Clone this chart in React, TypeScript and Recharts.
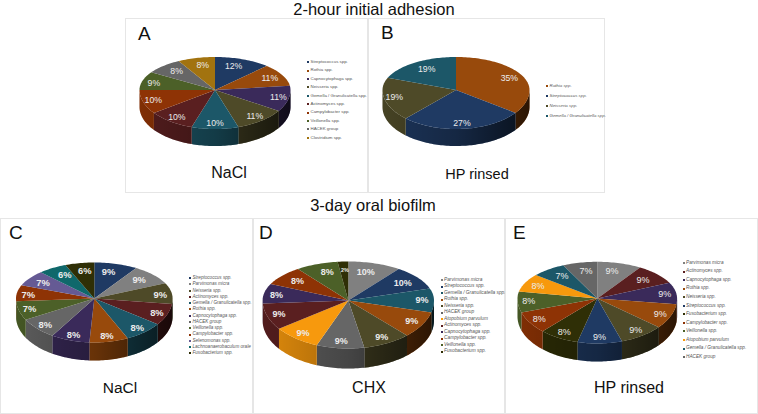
import React from "react";
import { PieChart, Pie, Cell, Legend } from "recharts";

const seriesColors: Record<string, string> = {
  "Streptococcus spp.": "#1f3a63",
  "Rothia spp.": "#984a0c",
  "Capnocytophaga spp.": "#3a2a5a",
  "Neisseria spp.": "#4e4a28",
  "Gemella / Granulicatella spp.": "#1c5768",
  "Actinomyces spp.": "#5a1f20",
  "Campylobacter spp.": "#8e3305",
  "Veillonella spp.": "#4c6028",
  "HACEK group": "#666666",
  "Clostridium spp.": "#a2730f",
  "Parvimonas micra": "#808080",
  "Selenomonas spp.": "#655a94",
  "Lachnoanaerobaculum orale": "#0f686b",
  "Fusobacterium spp.": "#2f2f06",
  "Atopobium parvulum": "#f7990d",
};

const categoriesA = ["Streptococcus spp.", "Rothia spp.", "Capnocytophaga spp.", "Neisseria spp.", "Gemella / Granulicatella spp.", "Actinomyces spp.", "Campylobacter spp.", "Veillonella spp.", "HACEK group", "Clostridium spp."];
const valuesA = [12, 11, 11, 11, 10, 10, 10, 9, 8, 8];

const categoriesB = ["Rothia spp.", "Streptococcus spp.", "Neisseria spp.", "Gemella / Granulicatella spp."];
const valuesB = [35, 27, 19, 19];

const categoriesC = ["Streptococcus spp.", "Parvimonas micra", "Neisseria spp.", "Actinomyces spp.", "Gemella / Granulicatella spp.", "Rothia spp.", "Capnocytophaga spp.", "HACEK group", "Veillonella spp.", "Campylobacter spp.", "Selenomonas spp.", "Lachnoanaerobaculum orale", "Fusobacterium spp."];
const valuesC = [9, 9, 9, 8, 8, 8, 8, 8, 7, 7, 7, 6, 6];

const categoriesD = ["Parvimonas micra", "Streptococcus spp.", "Gemella / Granulicatella spp.", "Rothia spp.", "Neisseria spp.", "HACEK group", "Atopobium parvulum", "Actinomyces spp.", "Capnocytophaga spp.", "Campylobacter spp.", "Veillonella spp.", "Fusobacterium spp."];
const valuesD = [10, 10, 9, 9, 9, 9, 9, 9, 8, 8, 8, 2];

const categoriesE = ["Parvimonas micra", "Actinomyces spp.", "Capnocytophaga spp.", "Rothia spp.", "Neisseria spp.", "Streptococcus spp.", "Fusobacterium spp.", "Campylobacter spp.", "Veillonella spp.", "Atopobium parvulum", "Gemella / Granulicatella spp.", "HACEK group"];
const valuesE = [9, 9, 9, 9, 9, 9, 8, 8, 8, 8, 7, 7];

const FONT = "'Liberation Sans', Arial, sans-serif";
const RAD = Math.PI / 180;

type Geo = { id: string; cx: number; cy: number; rx: number; ryTop: number; ryBot: number; depth: number };

const pt = (g: Geo, deg: number, f = 1): [number, number] => {
  const s = Math.sin(deg * RAD);
  return [g.cx + g.rx * f * Math.cos(deg * RAD), g.cy - (s > 0 ? g.ryTop : g.ryBot) * f * s];
};

const arcPts = (g: Geo, from: number, to: number) => {
  const out: [number, number][] = [];
  const n = Math.max(2, Math.ceil(Math.abs(to - from) / 1.5));
  for (let i = 0; i <= n; i++) out.push(pt(g, from + ((to - from) * i) / n));
  return out;
};

const toPath = (p: [number, number][]) =>
  "M" + p.map(([x, y]) => `${x.toFixed(2)},${y.toFixed(2)}`).join("L") + "Z";

const makeShape = (g: Geo) => (props: any) => {
  const { startAngle, endAngle, fill } = props;
  const hi = Math.min(startAngle, 0);
  const lo = Math.max(endAngle, -180);
  let wall: string | null = null;
  if (hi > lo) {
    const upper = arcPts(g, hi, lo);
    const lower = [...upper].reverse().map(([x, y]) => [x, y + g.depth] as [number, number]);
    wall = toPath([...upper, ...lower]);
  }
  const top = toPath([[g.cx, g.cy], ...arcPts(g, startAngle, endAngle)]);
  const gid = `${g.id}w${Math.round(startAngle * 10)}`.replace("-", "m");
  return (
    <g>
      <defs>
        <linearGradient id={gid} gradientUnits="userSpaceOnUse" x1={g.cx - g.rx} x2={g.cx + g.rx} y1={0} y2={0}>
          <stop offset="0" stopColor="#000" stopOpacity={0.1} />
          <stop offset="0.5" stopColor="#000" stopOpacity={0.32} />
          <stop offset="1" stopColor="#000" stopOpacity={0.72} />
        </linearGradient>
      </defs>
      {wall && <path d={wall} fill={fill} stroke="none" />}
      {wall && <path d={wall} fill={`url(#${gid})`} stroke="none" />}
      <path d={top} fill={fill} stroke="none" />
    </g>
  );
};

const makeLabel = (g: Geo, size: number, weight: number) => (props: any) => {
  const { midAngle, value } = props;
  const s = Math.sin(midAngle * RAD);
  const c = Math.cos(midAngle * RAD);
  const fx = s > 0 ? 0.86 - 0.22 * s * s : 0.86;
  const x = g.cx + g.rx * fx * c;
  const y = g.cy - (s > 0 ? g.ryTop * 0.78 : g.ryBot * 0.85) * s;
  return (
    <text x={x} y={y} textAnchor="middle" dominantBaseline="central" fill="#ececec" fontFamily={FONT} fontWeight={value < 5 ? 700 : weight} fontSize={value < 5 ? size * 0.6 : size}>
      {`${value}%`}
    </text>
  );
};

type LegendCfg = { x: number; y: number; step: number; size: number; italic: boolean };

const makeLegend = (l: LegendCfg) => (props: any) => (
  <div style={{ position: "absolute", left: l.x, top: l.y, fontFamily: FONT, fontSize: l.size, fontStyle: l.italic ? "italic" : "normal", color: "#555", whiteSpace: "nowrap" }}>
    {(props.payload || []).map((e: any) => (
      <div key={e.value} style={{ height: l.step, lineHeight: `${l.step}px`, display: "flex", alignItems: "center" }}>
        <span style={{ width: 2, height: 2, background: e.color, display: "inline-block", marginRight: 1.5, flex: "none" }} />
        {e.value}
      </div>
    ))}
  </div>
);

type PanelProps = {
  id: string; letter: string; caption: string; names: string[]; values: number[];
  box: { x: number; y: number; w: number; h: number };
  geo: Omit<Geo, "id">; legend: LegendCfg;
  letterPos: [number, number]; captionPos: [number, number]; captionSize: number;
  labelSize: number; labelWeight: number;
};

function Panel(p: PanelProps) {
  const g: Geo = {
    ...p.geo, id: p.id, cx: p.geo.cx - p.box.x, cy: p.geo.cy - p.box.y,
  };
  const data = p.names.map((name, i) => ({ name, value: p.values[i] }));
  const shape: any = makeShape(g);
  return (
    <div style={{ position: "absolute", left: p.box.x, top: p.box.y, width: p.box.w, height: p.box.h, border: "1px solid #e6e6e6", boxSizing: "border-box" }}>
      <div style={{ position: "absolute", left: -1, top: -1 }}>
        <PieChart width={p.box.w} height={p.box.h} margin={{ top: 0, right: 0, bottom: 0, left: 0 }}>
          <Pie
            data={data} dataKey="value" nameKey="name" cx={g.cx} cy={g.cy}
            innerRadius={0} outerRadius={g.rx} startAngle={90} endAngle={-270}
            stroke="none" paddingAngle={0} isAnimationActive={false}
            labelLine={false} label={makeLabel(g, p.labelSize, p.labelWeight)}
            {...({ shape, activeShape: shape, inactiveShape: shape } as any)}
          >
            {data.map((d) => <Cell key={d.name} fill={seriesColors[d.name]} />)}
          </Pie>
          <Legend
            itemSorter={null as any}
            content={makeLegend({ ...p.legend, x: p.legend.x - p.box.x, y: p.legend.y - p.box.y })}
            wrapperStyle={{ position: "absolute", left: 0, top: 0, width: 0, height: 0 }}
          />
        </PieChart>
      </div>
      <div style={{ position: "absolute", left: p.letterPos[0] - p.box.x, top: p.letterPos[1] - p.box.y, fontFamily: FONT, fontSize: 19, lineHeight: "20px", color: "#111" }}>{p.letter}</div>
      <div style={{ position: "absolute", left: p.captionPos[0] - p.box.x - 60, width: 120, textAlign: "center", top: p.captionPos[1] - p.box.y - 10, fontFamily: FONT, fontSize: p.captionSize, lineHeight: "20px", color: "#111" }}>{p.caption}</div>
    </div>
  );
}

const title = (text: string, cx: number, top: number, size: number) => (
  <div style={{ position: "absolute", left: cx - 150, width: 300, top, textAlign: "center", fontFamily: FONT, fontSize: size, lineHeight: "18px", color: "#111" }}>{text}</div>
);

export default function App() {
  return (
    <div style={{ position: "absolute", left: 0, top: 0, width: 758, height: 414, background: "#fff", overflow: "hidden" }}>
      <Panel id="a" letter="A" caption="NaCl" names={categoriesA} values={valuesA}
        box={{ x: 125, y: 18, w: 243, h: 175 }}
        geo={{ cx: 215, cy: 90, rx: 75.5, ryTop: 33, ryBot: 39, depth: 17 }}
        legend={{ x: 307, y: 58, step: 8.4, size: 4.4, italic: false }}
        letterPos={[137, 23]} captionPos={[228, 172]} captionSize={16} labelSize={8.7} labelWeight={400} />
      <Panel id="b" letter="B" caption="HP rinsed" names={categoriesB} values={valuesB}
        box={{ x: 368, y: 18, w: 237, h: 175 }}
        geo={{ cx: 456, cy: 90, rx: 73.5, ryTop: 33, ryBot: 39, depth: 17 }}
        legend={{ x: 546, y: 81, step: 10, size: 4.4, italic: true }}
        letterPos={[380, 22]} captionPos={[476, 173]} captionSize={14.5} labelSize={8.7} labelWeight={400} />
      <Panel id="c" letter="C" caption="NaCl" names={categoriesC} values={valuesC}
        box={{ x: 0, y: 218, w: 253, h: 196 }}
        geo={{ cx: 94.3, cy: 298.5, rx: 78.3, ryTop: 36, ryBot: 44, depth: 18 }}
        legend={{ x: 189, y: 275, step: 6.28, size: 4.6, italic: true }}
        letterPos={[8, 222]} captionPos={[119, 387]} captionSize={15.5} labelSize={9.4} labelWeight={700} />
      <Panel id="d" letter="D" caption="CHX" names={categoriesD} values={valuesD}
        box={{ x: 253, y: 218, w: 252, h: 196 }}
        geo={{ cx: 348.3, cy: 300.5, rx: 85.7, ryTop: 39, ryBot: 48, depth: 20 }}
        legend={{ x: 440.5, y: 276.8, step: 6.5, size: 4.8, italic: true }}
        letterPos={[258, 222]} captionPos={[368, 387]} captionSize={16} labelSize={9} labelWeight={700} />
      <Panel id="e" letter="E" caption="HP rinsed" names={categoriesE} values={valuesE}
        box={{ x: 505, y: 218, w: 253, h: 196 }}
        geo={{ cx: 597.3, cy: 298.5, rx: 79.8, ryTop: 36.7, ryBot: 45, depth: 18 }}
        legend={{ x: 682.5, y: 258.8, step: 8.55, size: 4.7, italic: true }}
        letterPos={[512, 222]} captionPos={[628, 387]} captionSize={16} labelSize={9} labelWeight={400} />
      {title("2-hour initial adhesion", 374, 0, 16.5)}
      {title("3-day oral biofilm", 373, 196, 16.5)}
    </div>
  );
}
